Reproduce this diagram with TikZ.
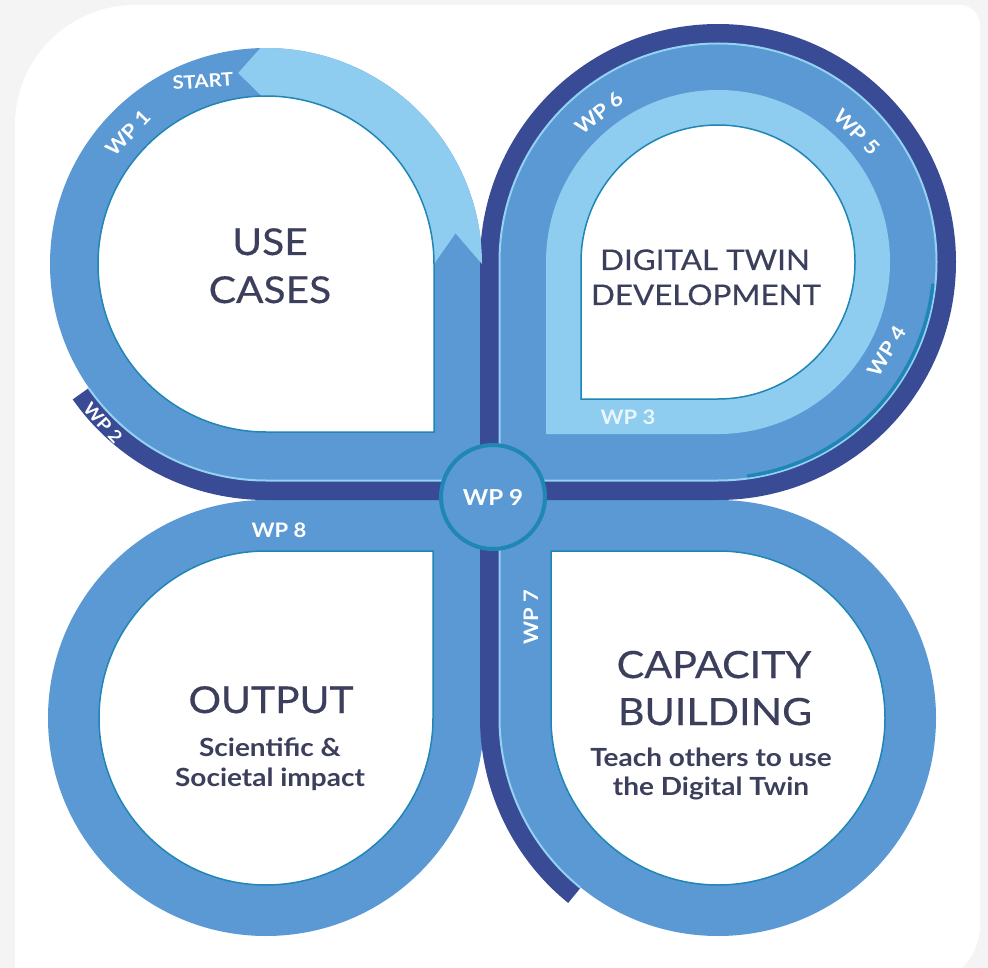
\documentclass[tikz,border=0pt]{standalone}
\usepackage{fontspec}
\setmainfont{Lato}
\newfontfamily\titlefont{Lato}[FakeBold=0.4, FakeStretch=1.1]
\newfontfamily\subfont{Lato}[FakeStretch=1.12, UprightFont=*-Bold]
\newfontfamily\labelfont{Lato}[FakeStretch=1.1, UprightFont=*-Bold]
\usetikzlibrary{calc}
\definecolor{bgray}{HTML}{F4F4F4}
\definecolor{medblue}{HTML}{5A99D4}
\definecolor{ltblue}{HTML}{8ECDF0}
\definecolor{edgeblue}{HTML}{93D2F3}
\definecolor{navy}{HTML}{3A4B96}
\definecolor{tealc}{HTML}{1F86B5}
\definecolor{txt}{HTML}{3B3F5C}
\definecolor{wplight}{HTML}{EAF5FC}
% teardrop: circle of radius #2 round coordinate #1, with a square corner in direction #3
\newcommand{\teardrop}[3]{($(#1)+(#3+45:#2)$) arc[start angle=#3+45, end angle=#3+315, radius=#2] -- ($(#1)+(#3:{#2*1.41421356})$) -- cycle}
\begin{document}
\begin{tikzpicture}[x=1pt,y=-1pt,
  navyband/.style={draw=navy, line width=20pt, line cap=butt, line join=miter},
  edgeline/.style={draw=edgeblue, line width=2pt, line cap=butt},
  whitein/.style={fill=white, draw=tealc, line width=1.5pt},
  title/.style={text=txt, font=\titlefont\fontsize{37}{42}\selectfont, anchor=base, inner sep=0pt},
  sub/.style={text=txt, font=\subfont\fontsize{25}{29}\selectfont, anchor=base, inner sep=0pt},
  wp/.style={text=white, font=\labelfont\fontsize{20}{23}\selectfont, inner sep=0pt}]
\useasboundingbox (0,0) rectangle (988,968);
\clip (0,0) rectangle (988,968);
\fill[bgray] (0,0) rectangle (988,968);
\fill[white] (15,985) -- (15,125) arc[start angle=180, end angle=270, radius=120]
  -- (960,5) arc[start angle=270, end angle=360, radius=20]
  -- (980,925) arc[start angle=0, end angle=90, radius=60] -- cycle;
\coordinate (TL) at (266,264);
\coordinate (TR) at (718,262);
\coordinate (BL) at (266,718);
\coordinate (BR) at (718,718);
% medium rings
\fill[medblue] (430,430) rectangle (556,556);
\fill[medblue] \teardrop{TL}{216}{45};
\fill[medblue] \teardrop{TR}{218}{135};
\fill[medblue] \teardrop{BL}{218}{-45};
\fill[medblue] \teardrop{BR}{218}{225};
% navy band WP2 - ring - WP7
\draw[navyband] ($(TL)+(145:226)$) arc[start angle=145, end angle=90, radius=226]
  -- ($(TR)+(90:228)$) arc[start angle=90, end angle=-180, radius=228]
  -- ($(BR)+(180:228)$) arc[start angle=180, end angle=129, radius=228];
% light edge along the inner side of the navy band
\draw[edgeline] ($(TL)+(145:216.5)$) arc[start angle=145, end angle=90, radius=216.5]
  -- ($(TR)+(90:218.5)$) arc[start angle=90, end angle=-180, radius=218.5]
  -- ($(BR)+(180:218.5)$) arc[start angle=180, end angle=129, radius=218.5];
% teal strip under WP4
\draw[tealc, line width=3.5pt, line cap=round] ($(TR)+(6:216)$) arc[start angle=6, end angle=82, radius=216];
% light band of the digital twin petal
\fill[ltblue] \teardrop{TR}{172}{135};
% light arrow part of WP1
\fill[ltblue] ($(TL)+(-91.5:216)$) arc[start angle=-91.5, end angle=0, radius=216]
  -- ($(TL)+(-9.2:192)$) -- ($(TL)+(0:168)$)
  arc[start angle=0, end angle=-91.5, radius=168]
  -- ($(TL)+(-98.3:193)$) -- cycle;
% white interiors
\draw[whitein] \teardrop{TL}{168}{45};
\draw[whitein] \teardrop{TR}{137}{135};
\draw[whitein] \teardrop{BL}{167}{-45};
\draw[whitein] \teardrop{BR}{167}{225};
% centre
\node[circle, fill=medblue, draw=tealc, line width=4pt, minimum size=104pt, inner sep=0pt,
  text=white, font=\labelfont\fontsize{22}{24}\selectfont] (wp9) at (493,497) {WP 9};
% titles
\node[title] (uc1) at (270,255) {USE};
\node[title] (uc2) at (270,303) {CASES};
\node[title, font=\titlefont\fontsize{28.5}{32}\selectfont] (dt1) at (705,270) {DIGITAL TWIN};
\node[title, font=\titlefont\fontsize{28.5}{32}\selectfont] (dt2) at (706,305) {DEVELOPMENT};
\node[title, font=\titlefont\fontsize{37}{42}\selectfont] (out) at (271,713) {OUTPUT};
\node[sub] (sci1) at (270,756) {Scientific \&};
\node[sub] (sci2) at (270,786) {Societal impact};
\node[title, font=\titlefont\fontsize{37.5}{42}\selectfont] (cap1) at (714,678) {CAPACITY};
\node[title, font=\titlefont\fontsize{37.5}{42}\selectfont] (cap2) at (715,725) {BUILDING};
\node[sub] (teach1) at (711,766) {Teach others to use};
\node[sub] (teach2) at (711,795) {the Digital Twin};
% work package labels
\node[wp, font=\labelfont\fontsize{18.5}{21}\selectfont, rotate=4] (start) at (203,81) {START};
\node[wp, rotate=46] (wp1) at (128,133) {WP 1};
\node[wp, font=\labelfont\fontsize{17.5}{20}\selectfont, rotate=-48] (wp2) at (103,423) {WP 2};
\node[wp, text=wplight] (wp3) at (628,417) {WP 3};
\node[wp, rotate=58] (wp4) at (887,351) {WP 4};
\node[wp, rotate=-46] (wp5) at (857,132) {WP 5};
\node[wp, rotate=39] (wp6) at (599,113) {WP 6};
\node[wp, rotate=90] (wp7) at (531,617) {WP 7};
\node[wp] (wp8) at (279,530) {WP 8};
\end{tikzpicture}
\end{document}
